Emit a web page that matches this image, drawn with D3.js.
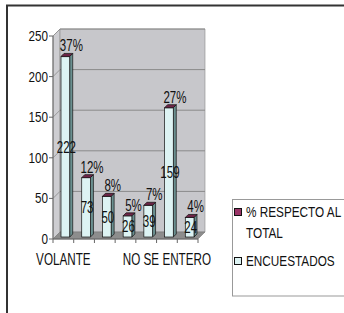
<!DOCTYPE html>
<html>
<head>
<meta charset="utf-8">
<script src="https://cdn.jsdelivr.net/npm/d3@7"></script>
<style>
  html, body { margin: 0; padding: 0; background: #fff; }
  svg { display: block; }
  text { font-family: "Liberation Sans", Arial, sans-serif; fill: #111; }
</style>
</head>
<body>
<div id="chart"></div>
<script>
// chart data
const categories = ['VOLANTE', 'c2', 'c3', 'c4', 'c5', 'NO SE ENTERO', 'c7'];
const tickLabels = ['VOLANTE', '', '', '', '', 'NO SE ENTERO', ''];
const encuestados = [222, 73, 50, 26, 39, 159, 24];
const porcentaje = [0.37, 0.12, 0.08, 0.05, 0.07, 0.27, 0.04];
const yTicks = [0, 50, 100, 150, 200, 250];
const legendLabels = [['% RESPECTO AL', 'TOTAL'], ['ENCUESTADOS']];

const width = 344;
const height = 313;
const depth = 7;          // wall depth (px, diagonal offset)
const barFront = 2;       // bar front depth offset
const barDepth = 3;

const colors = {
    wall: '#c7c7cb',
    floor: '#8d8d8d',
    grid: '#8a8a8a',
    barFront: '#ddf3f3',
    barSide: '#6b9090',
    pctFront: '#993366',
    pctTop: '#6e2548'
};

const svg = d3.select('#chart')
    .append('svg')
    .attr('width', width)
    .attr('height', height);

// outer frame (only left and top visible)
svg.append('path')
    .attr('d', 'M7,313 L7,5.5 L344,5.5')
    .attr('fill', 'none')
    .attr('stroke', '#333')
    .attr('stroke-width', 2);

const xScale = d3.scaleBand()
    .domain(categories)
    .range([53, 198]);

const yScale = d3.scaleLinear()
    .domain([0, 250])
    .range([239, 36]);

// helper: point shifted into depth
const pt = (x, y, d) => [x + d, y - d];
const poly = (pts) => 'M' + pts.map((p) => p.join(',')).join('L') + 'Z';

const x0 = xScale.range()[0];
const x1 = xScale.range()[1];
const yb = yScale(0);
const yt = yScale(250);

// left wall
svg.append('path')
    .attr('d', poly([[x0, yb], [x0, yt], pt(x0, yt, depth), pt(x0, yb, depth)]))
    .attr('fill', '#cdcdd1')
    .attr('stroke', '#8a8a8a')
    .attr('stroke-width', 0.6);

// back wall
svg.append('path')
    .attr('d', poly([pt(x0, yb, depth), pt(x0, yt, depth), pt(x1, yt, depth), pt(x1, yb, depth)]))
    .attr('fill', colors.wall)
    .attr('stroke', '#8a8a8a')
    .attr('stroke-width', 0.6);

// floor
svg.append('path')
    .attr('d', poly([[x0, yb], [x1, yb], pt(x1, yb, depth), pt(x0, yb, depth)]))
    .attr('fill', colors.floor)
    .attr('stroke', '#777')
    .attr('stroke-width', 0.6);

// gridlines (back wall + left wall)
const grid = svg.append('g').attr('class', 'gridlines');
yTicks.filter((d) => d > 0).forEach((t) => {
    const y = yScale(t);
    grid.append('line')
        .attr('x1', x0 + depth).attr('x2', x1 + depth)
        .attr('y1', y - depth).attr('y2', y - depth)
        .attr('stroke', colors.grid).attr('stroke-width', 1);
    grid.append('line')
        .attr('x1', x0).attr('x2', x0 + depth)
        .attr('y1', y).attr('y2', y - depth)
        .attr('stroke', colors.grid).attr('stroke-width', 0.8);
});

// y axis
const yAxis = svg.append('g');
yAxis.append('line')
    .attr('x1', x0).attr('x2', x0)
    .attr('y1', yt).attr('y2', yb)
    .attr('stroke', '#666');
yTicks.forEach((t) => {
    const y = yScale(t);
    yAxis.append('line')
        .attr('x1', x0 - 4).attr('x2', x0)
        .attr('y1', y).attr('y2', y)
        .attr('stroke', '#666');
    yAxis.append('text')
        .attr('transform', `translate(${x0 - 5},${y + 5}) scale(0.78,1)`)
        .attr('text-anchor', 'end')
        .style('font-size', '15px')
        .text(t);
});

// x axis
const xAxis = svg.append('g');
xAxis.append('line')
    .attr('x1', x0).attr('x2', x1)
    .attr('y1', yb).attr('y2', yb)
    .attr('stroke', '#666');
categories.forEach((c, i) => {
    const xb = xScale(c);
    xAxis.append('line')
        .attr('x1', xb).attr('x2', xb)
        .attr('y1', yb).attr('y2', yb + 4)
        .attr('stroke', '#666');
    if (tickLabels[i]) {
        xAxis.append('text')
            .attr('transform', `translate(${xb + xScale.bandwidth() / 2},${yb + 26}) scale(0.73,1)`)
            .attr('text-anchor', 'middle')
            .style('font-size', '16px')
            .text(tickLabels[i]);
    }
});
xAxis.append('line')
    .attr('x1', x1).attr('x2', x1)
    .attr('y1', yb).attr('y2', yb + 4)
    .attr('stroke', '#666');

// bars
const bw = xScale.bandwidth();
const barW = bw * 0.42;
const bars = svg.append('g').attr('class', 'bars');

categories.forEach((c, i) => {
    const l = xScale(c) + (bw - barW) / 2 + barFront;
    const r = l + barW;
    const base = yScale(0) - barFront;
    const top = base - (yScale(0) - yScale(encuestados[i]));
    const top2 = top - (yScale(0) - yScale(porcentaje[i]));
    const g = bars.append('g');

    // side face
    g.append('path')
        .attr('d', poly([[r, base], [r, top2], [r + barDepth, top2 - barDepth], [r + barDepth, base - barDepth]]))
        .attr('fill', colors.barSide)
        .attr('stroke', '#111').attr('stroke-width', 0.7);
    // front face
    g.append('rect')
        .attr('x', l).attr('y', top)
        .attr('width', barW).attr('height', base - top)
        .attr('fill', colors.barFront)
        .attr('stroke', '#111').attr('stroke-width', 0.7);
    // percent segment front (very thin) + top face
    g.append('rect')
        .attr('x', l).attr('y', top2)
        .attr('width', barW).attr('height', Math.max(0, top - top2))
        .attr('fill', colors.pctFront);
    g.append('path')
        .attr('d', poly([[l, top2], [r, top2], [r + barDepth, top2 - barDepth], [l + barDepth, top2 - barDepth]]))
        .attr('fill', colors.pctTop)
        .attr('stroke', '#111').attr('stroke-width', 0.7);

    const cx = l + barW / 2 + 1;
    // value label (centered in bar)
    g.append('text')
        .attr('transform', `translate(${cx},${(base + top) / 2 + 6}) scale(0.72,1)`)
        .attr('text-anchor', 'middle')
        .style('font-size', '16px')
        .text(encuestados[i]);
    // percent label (above bar)
    g.append('text')
        .attr('transform', `translate(${cx + 5},${top2 - 5}) scale(0.72,1)`)
        .attr('text-anchor', 'middle')
        .style('font-size', '16px')
        .text(d3.format('.0%')(porcentaje[i]));
});

// legend
const legend = svg.append('g').attr('class', 'legend');
legend.append('rect')
    .attr('x', 232.5).attr('y', 199.5)
    .attr('width', 120).attr('height', 96.5)
    .attr('fill', '#fff')
    .attr('stroke', '#999').attr('stroke-width', 1);

const legendFill = [colors.pctFront, colors.barFront];
const legendY = [208, 257];
legendLabels.forEach((lines, i) => {
    legend.append('rect')
        .attr('x', 234.5).attr('y', legendY[i] + 0.5)
        .attr('width', 7).attr('height', 7)
        .attr('fill', legendFill[i])
        .attr('stroke', '#111').attr('stroke-width', 1);
    lines.forEach((s, j) => {
        legend.append('text')
            .attr('transform', `translate(${246},${legendY[i] + 9 + j * 21}) scale(0.76,1)`)
            .style('font-size', '15.5px')
            .text(s);
    });
});
</script>
</body>
</html>
